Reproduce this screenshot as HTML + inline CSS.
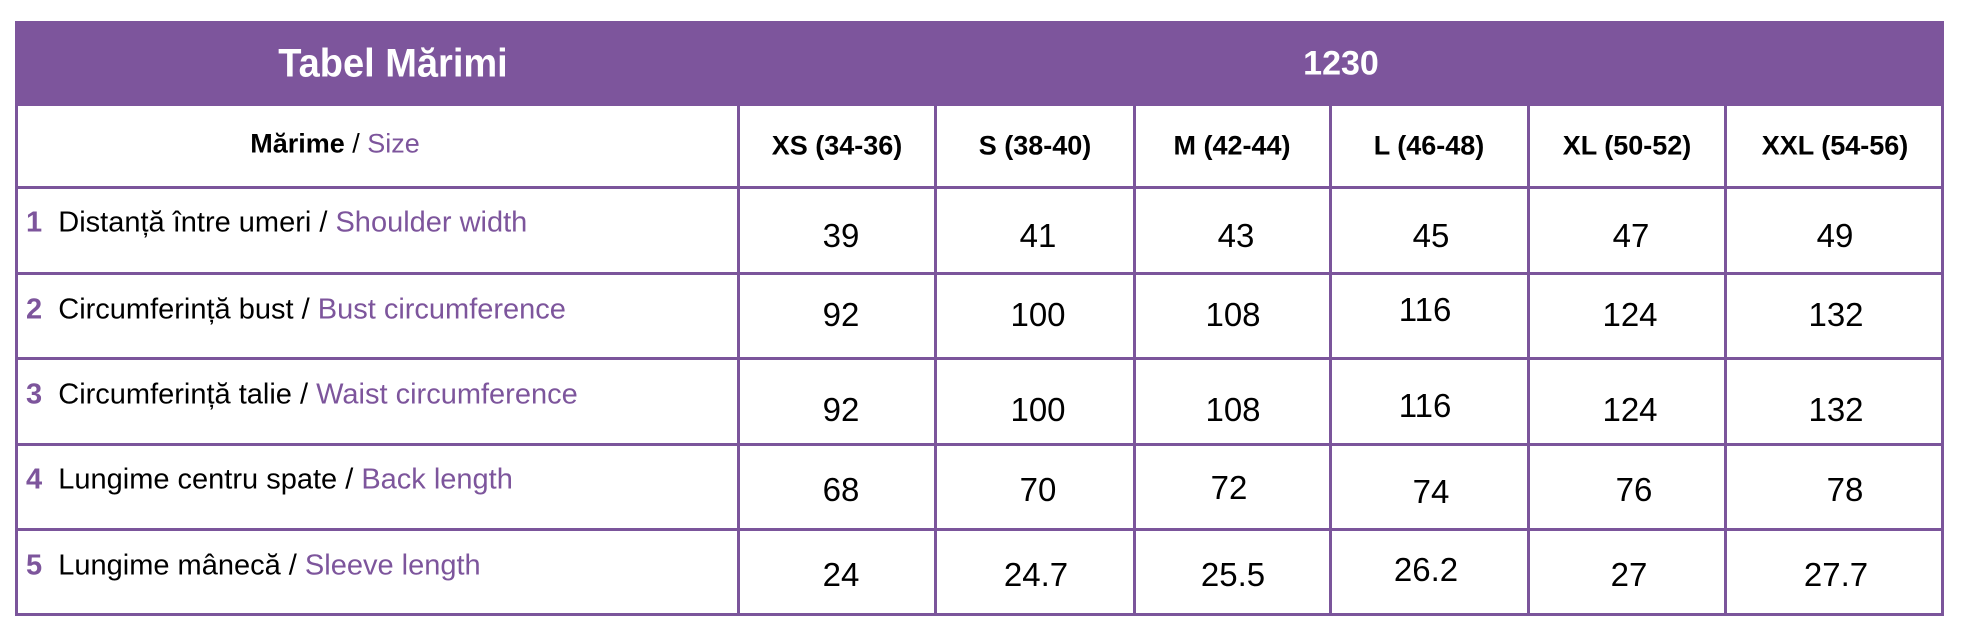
<!DOCTYPE html>
<html><head><meta charset="utf-8"><style>
body{margin:0;width:1964px;height:638px;background:#fff;position:relative;overflow:hidden;font-family:"Liberation Sans Narrow","Liberation Sans",sans-serif;}
.h{position:absolute;left:15px;top:21px;width:1929px;height:85px;background:#7d559c;}
.t{position:absolute;white-space:nowrap;transform:translate(-50%,-50%);}
.hl{position:absolute;background:#7b559b;}
.p{color:#7d559c}
.lab{position:absolute;left:26px;font-size:29px;transform:translateY(-50%);white-space:nowrap;}
.v{font-size:33px;}
.ch{font-size:27px;font-weight:bold;}
</style></head><body>
<div class="h"></div>
<div class="t" style="left:393px;top:64px;color:#fff;font-size:40px;font-weight:bold;transform:translate(-50%,-50%) scaleX(0.95)">Tabel Mărimi</div>
<div class="t" style="left:1341px;top:64px;color:#fff;font-size:34px;font-weight:bold;">1230</div>
<div class="hl" style="left:15px;top:106px;width:3px;height:510px"></div>
<div class="hl" style="left:1941px;top:106px;width:3px;height:510px"></div>
<div class="hl" style="left:15px;top:186px;width:1929px;height:3px"></div>
<div class="hl" style="left:15px;top:272px;width:1929px;height:3px"></div>
<div class="hl" style="left:15px;top:357px;width:1929px;height:3px"></div>
<div class="hl" style="left:15px;top:443px;width:1929px;height:3px"></div>
<div class="hl" style="left:15px;top:528px;width:1929px;height:3px"></div>
<div class="hl" style="left:15px;top:613px;width:1929px;height:3px"></div>
<div class="hl" style="left:737px;top:106px;width:3px;height:510px"></div>
<div class="hl" style="left:934px;top:106px;width:3px;height:510px"></div>
<div class="hl" style="left:1133px;top:106px;width:3px;height:510px"></div>
<div class="hl" style="left:1329px;top:106px;width:3px;height:510px"></div>
<div class="hl" style="left:1527px;top:106px;width:3px;height:510px"></div>
<div class="hl" style="left:1724px;top:106px;width:3px;height:510px"></div>
<div class="t ch" style="left:335px;top:144px;font-weight:normal;"><b>Mărime</b> / <span class="p">Size</span></div>
<div class="t ch" style="left:837px;top:146px">XS (34-36)</div>
<div class="t ch" style="left:1035px;top:146px">S (38-40)</div>
<div class="t ch" style="left:1232px;top:146px">M (42-44)</div>
<div class="t ch" style="left:1429px;top:146px">L (46-48)</div>
<div class="t ch" style="left:1627px;top:146px">XL (50-52)</div>
<div class="t ch" style="left:1835px;top:146px">XXL (54-56)</div>
<div class="lab" style="top:223px"><b class="p">1</b>&nbsp; Distanță între umeri / <span class="p">Shoulder width</span></div>
<div class="lab" style="top:310px"><b class="p">2</b>&nbsp; Circumferință bust / <span class="p">Bust circumference</span></div>
<div class="lab" style="top:395px"><b class="p">3</b>&nbsp; Circumferință talie / <span class="p">Waist circumference</span></div>
<div class="lab" style="top:480px"><b class="p">4</b>&nbsp; Lungime centru spate / <span class="p">Back length</span></div>
<div class="lab" style="top:566px"><b class="p">5</b>&nbsp; Lungime mânecă / <span class="p">Sleeve length</span></div>
<div class="t v" style="left:841px;top:236px">39</div><div class="t v" style="left:1038px;top:236px">41</div><div class="t v" style="left:1236px;top:236px">43</div><div class="t v" style="left:1431px;top:236px">45</div><div class="t v" style="left:1631px;top:236px">47</div><div class="t v" style="left:1835px;top:236px">49</div>
<div class="t v" style="left:841px;top:315px">92</div><div class="t v" style="left:1038px;top:315px">100</div><div class="t v" style="left:1233px;top:315px">108</div><div class="t v" style="left:1425px;top:310px">116</div><div class="t v" style="left:1630px;top:315px">124</div><div class="t v" style="left:1836px;top:315px">132</div>
<div class="t v" style="left:841px;top:410px">92</div><div class="t v" style="left:1038px;top:410px">100</div><div class="t v" style="left:1233px;top:410px">108</div><div class="t v" style="left:1425px;top:406px">116</div><div class="t v" style="left:1630px;top:410px">124</div><div class="t v" style="left:1836px;top:410px">132</div>
<div class="t v" style="left:841px;top:490px">68</div><div class="t v" style="left:1038px;top:490px">70</div><div class="t v" style="left:1229px;top:488px">72</div><div class="t v" style="left:1431px;top:492px">74</div><div class="t v" style="left:1634px;top:490px">76</div><div class="t v" style="left:1845px;top:490px">78</div>
<div class="t v" style="left:841px;top:575px">24</div><div class="t v" style="left:1036px;top:575px">24.7</div><div class="t v" style="left:1233px;top:575px">25.5</div><div class="t v" style="left:1426px;top:570px">26.2</div><div class="t v" style="left:1629px;top:575px">27</div><div class="t v" style="left:1836px;top:575px">27.7</div>
</body></html>
